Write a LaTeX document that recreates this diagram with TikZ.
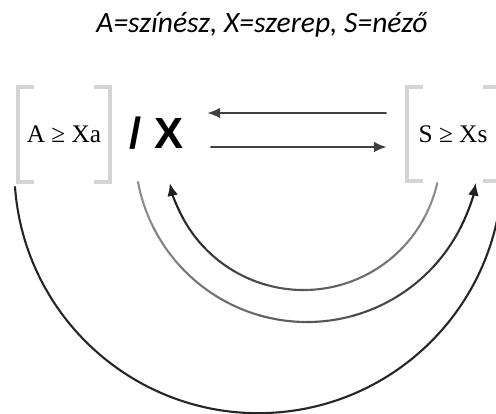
\documentclass[tikz,border=0pt]{standalone}
\usepackage{fontspec}
\setmainfont{Liberation Serif}
\newfontfamily\titlefont{Carlito}
\newfontfamily\xfont{Liberation Sans}
\usetikzlibrary{arrows.meta}

\begin{document}
\begin{tikzpicture}[x=0.025cm,y=0.025cm,
  >={Latex[length=3.2mm,width=2.7mm]},
  bracketbox/.style={minimum width=2.3cm,minimum height=2.35cm,inner sep=0pt,
              font=\fontsize{18}{22}\selectfont},
  bracket/.style={draw=black!17,line width=2.8pt},
  arr/.style={->,line width=1.4pt,draw=black!75},
  bow/.style={line width=1.5pt,line cap=round}
]
\useasboundingbox (0,0) rectangle (496,414);
\clip (0,0) rectangle (496,414);

\node[font=\titlefont\itshape\fontsize{21}{25}\selectfont,anchor=base] (title) at (262,381)
  {A=színész, X=szerep, S=néző};
\node[bracketbox] (Abox) at (64,279.5) {A ≥ Xa};
\node[bracketbox] (Sbox) at (453,280)  {S ≥ Xs};
\node[font=\xfont\bfseries\fontsize{31}{36}\selectfont,inner sep=0pt] (X) at (156.5,281) {/ X};

% brackets
\draw[bracket] ([xshift=0.4cm]Abox.north west) -- (Abox.north west) -- (Abox.south west) -- ([xshift=0.4cm]Abox.south west);
\draw[bracket] ([xshift=-0.4cm]Abox.north east) -- (Abox.north east) -- (Abox.south east) -- ([xshift=-0.4cm]Abox.south east);
\draw[bracket] ([xshift=0.4cm]Sbox.north west) -- (Sbox.north west) -- (Sbox.south west) -- ([xshift=0.4cm]Sbox.south west);
\draw[bracket] ([xshift=-0.4cm]Sbox.north east) -- (Sbox.north east) -- (Sbox.south east) -- ([xshift=-0.4cm]Sbox.south east);

% straight arrows
\draw[arr] ([xshift=-0.5cm,yshift=0.525cm]Sbox.west) -- ([xshift=0.6cm,yshift=0.5cm]X.east);
\draw[arr] ([xshift=0.675cm,yshift=-0.35cm]X.east) -- ([xshift=-0.5cm,yshift=-0.325cm]Sbox.west);

% arcs
\coordinate (outerC) at (258,245);
\coordinate (outerL) at (15,227);
\coordinate (midC)   at (307,264);
\coordinate (innerC) at (303.5,261);

\draw[bow,draw=black!85] (outerL) arc[start angle=184.2,end angle=358,radius=6.1cm];

\foreach \i [evaluate=\i as \a using 190.7+15.83*\i, evaluate=\i as \c using int(45+4.5*\i)] in {0,...,8}
  \draw[bow,draw=black!\c] (midC) ++(\a:4.3cm) arc[start angle=\a,delta angle=15.83,radius=4.3cm];
\draw[bow,draw=black!87,->] (midC) ++(333.17:4.3cm) arc[start angle=333.17,end angle=349,radius=4.3cm];

\foreach \i [evaluate=\i as \a using 347.3-15.46*\i, evaluate=\i as \c using int(45+4.5*\i)] in {0,...,8}
  \draw[bow,draw=black!\c] (innerC) ++(\a:3.425cm) arc[start angle=\a,delta angle=-15.46,radius=3.425cm];
\draw[bow,draw=black!87,->] (innerC) ++(208.16:3.425cm) arc[start angle=208.16,end angle=192.7,radius=3.425cm];
\end{tikzpicture}
\end{document}
